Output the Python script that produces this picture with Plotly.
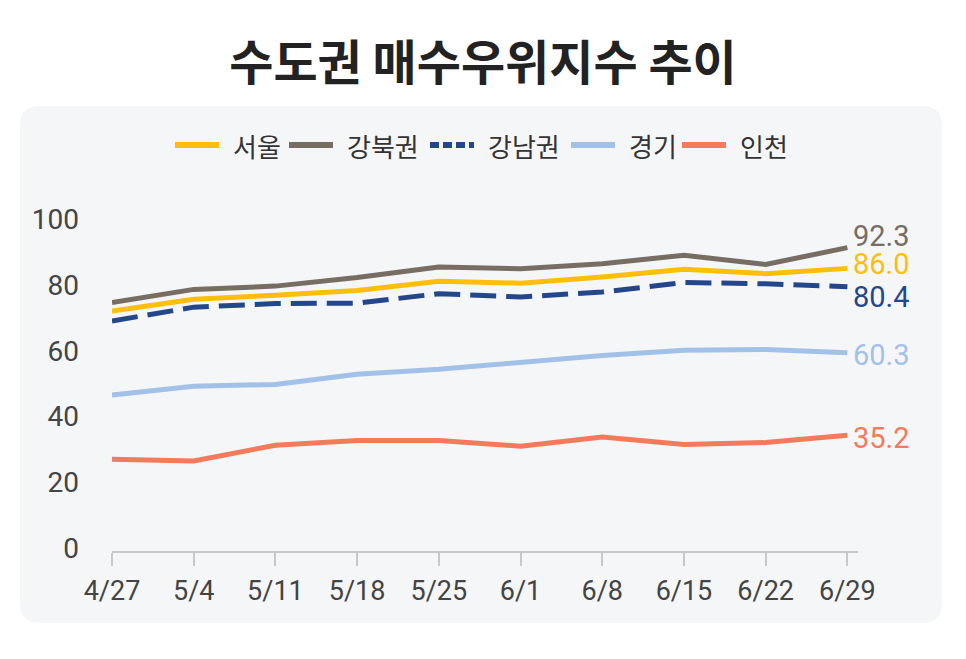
import plotly.graph_objects as go

# ---------------- data ----------------
dates = ["4/27", "5/4", "5/11", "5/18", "5/25", "6/1", "6/8", "6/15", "6/22", "6/29"]
series_names = ["서울", "강북권", "강남권", "경기", "인천"]
seoul = [73.0, 76.6, 77.8, 79.3, 82.1, 81.5, 83.4, 85.7, 84.4, 86.0]
gangbuk = [75.6, 79.6, 80.6, 83.2, 86.4, 85.9, 87.4, 90.0, 87.2, 92.3]
gangnam = [70.0, 74.2, 75.3, 75.4, 78.3, 77.3, 78.8, 81.7, 81.3, 80.4]
gyeonggi = [47.5, 50.1, 50.7, 53.8, 55.3, 57.5, 59.5, 61.1, 61.3, 60.3]
incheon = [27.9, 27.4, 32.2, 33.6, 33.6, 31.9, 34.7, 32.4, 33.0, 35.2]
y_ticks = [0, 20, 40, 60, 80, 100]
title_text = "수도권 매수우위지수 추이"

# ---------------- styles ----------------
colors = ["#FFBE0B", "#776D63", "#24468B", "#A2C1E8", "#F37A5B"]
dashes = ["solid", "solid", "26px,10px", "solid", "solid"]
legend_dashes = ["solid", "solid", "9px,4px", "solid", "solid"]
label_yshift = [4, 12, -10, -2, -3]
legend_sym_x = [175, 289, 430, 571, 682]   # legend layout (pixels)
legend_txt_x = [231, 345, 486, 627, 738]
legend_y = 145
values = [seoul, gangbuk, gangnam, gyeonggi, incheon]

W, H = 966, 659
ML, MR, MT, MB = 112, 108, 201, 108
PW, PH = W - ML - MR, H - MT - MB
NUM_FONT = "Roboto, Inter, sans-serif"
KR_FONT = "Noto Sans CJK KR, Noto Sans, sans-serif"


def px2paper(x, y):
    return (x - ML) / PW, (H - MB - y) / PH


def rounded_rect(x0, y0, x1, y1, r):
    def P(x, y):
        a, b = px2paper(x, y)
        return f"{a:.5f},{b:.5f}"
    return (
        f"M {P(x0 + r, y0)} L {P(x1 - r, y0)} Q {P(x1, y0)} {P(x1, y0 + r)} "
        f"L {P(x1, y1 - r)} Q {P(x1, y1)} {P(x1 - r, y1)} "
        f"L {P(x0 + r, y1)} Q {P(x0, y1)} {P(x0, y1 - r)} "
        f"L {P(x0, y0 + r)} Q {P(x0, y0)} {P(x0 + r, y0)} Z"
    )


fig = go.Figure()

for name, vals, col, dash in zip(series_names, values, colors, dashes):
    fig.add_trace(go.Scatter(
        x=dates, y=vals, name=name, mode="lines",
        line=dict(color=col, width=5, dash=dash),
        cliponaxis=False, hoverinfo="skip", showlegend=False,
    ))

annotations = []
for vals, col, ys in zip(values, colors, label_yshift):
    annotations.append(dict(
        x=len(dates) - 1, y=vals[-1], xref="x", yref="y",
        text=f"{vals[-1]:.1f}", showarrow=False,
        xanchor="left", yanchor="middle", xshift=5, yshift=ys,
        font=dict(family=NUM_FONT, size=29, color=col),
        borderpad=0,
    ))

shapes = [dict(
    type="path", xref="paper", yref="paper", layer="below",
    path=rounded_rect(20, 106, 942, 623, 20),
    fillcolor="#F5F6F8", line=dict(width=0),
)]

# manual legend (symbols + labels)
for name, col, ld, sx, tx in zip(series_names, colors, legend_dashes, legend_sym_x, legend_txt_x):
    x0, yy = px2paper(sx, legend_y)
    x1, _ = px2paper(sx + 44, legend_y)
    shapes.append(dict(
        type="line", xref="paper", yref="paper", x0=x0, x1=x1, y0=yy, y1=yy,
        line=dict(color=col, width=6, dash=ld), layer="above",
    ))
    txp, _ = px2paper(tx, legend_y)
    annotations.append(dict(
        x=txp, y=yy, xref="paper", yref="paper", text=name, showarrow=False,
        xanchor="left", yanchor="middle",
        font=dict(family=KR_FONT, size=26, color="#333333"),
    ))

fig.update_layout(
    width=W, height=H,
    margin=dict(l=ML, r=MR, t=MT, b=MB, pad=0),
    paper_bgcolor="#FFFFFF",
    plot_bgcolor="rgba(0,0,0,0)",
    title=dict(
        text=title_text, x=0.5, xanchor="center", y=1 - 63 / H, yanchor="middle",
        font=dict(family=KR_FONT, size=48, color="#222222", weight="bold"),
    ),
    showlegend=False,
    xaxis=dict(
        type="category", range=[0, 9.13],
        showline=True, linecolor="#C8C8C8", linewidth=2,
        ticks="outside", ticklen=13, tickwidth=2, tickcolor="#C8C8C8",
        showgrid=False, zeroline=False,
        tickfont=dict(family=NUM_FONT, size=27, color="#444444"),
        ticklabelstandoff=2,
    ),
    yaxis=dict(
        range=[0, 106.5], tickvals=y_ticks,
        showline=False, showgrid=False, zeroline=False, ticks="",
        tickfont=dict(family=NUM_FONT, size=28, color="#444444"),
        ticklabelstandoff=32, ticklabelshift=-3,
    ),
    annotations=annotations,
    shapes=shapes,
)

fig.write_html("out.html")
